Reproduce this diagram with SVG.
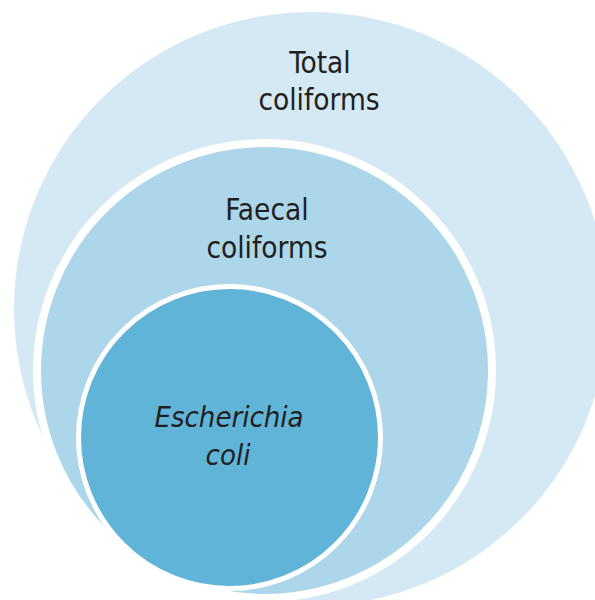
<svg xmlns="http://www.w3.org/2000/svg" width="595" height="600" viewBox="0 0 595 600">
<style>
.lbl{font-family:"DejaVu Sans Condensed","DejaVu Sans",sans-serif;font-size:29.5px;fill:#231f20;text-anchor:middle}
.it{font-style:italic;font-size:29px}
</style>
<rect width="595" height="600" fill="#ffffff"/>
<g id="total">
<circle cx="311" cy="309" r="297" fill="#d5e9f4"/>
<text class="lbl" x="320" y="73">Total</text>
<text class="lbl" x="319" y="110">coliforms</text>
</g>
<g id="faecal">
<circle cx="264.5" cy="370.5" r="227.5" fill="#acd6e9" stroke="#ffffff" stroke-width="8"/>
<text class="lbl" x="267" y="220">Faecal</text>
<text class="lbl" x="267" y="258">coliforms</text>
</g>
<g id="ecoli">
<circle cx="229.5" cy="437.5" r="151" fill="#5fb4d8" stroke="#ffffff" stroke-width="5"/>
<text class="lbl it" x="229" y="427">Escherichia</text>
<text class="lbl it" x="228" y="465">coli</text>
</g>
<g id="connectors"/>
</svg>
